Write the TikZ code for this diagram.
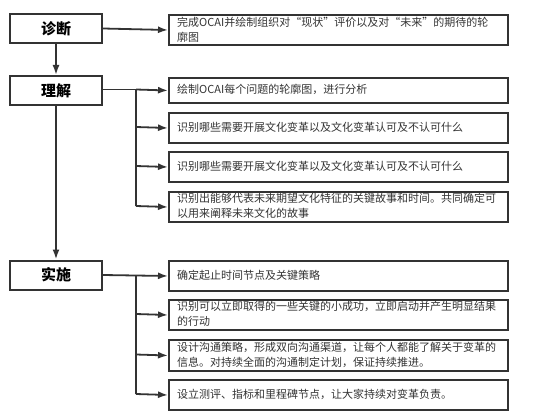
\documentclass[tikz,border=0pt]{standalone}
\usepackage{fontspec}
\setmainfont{Noto Sans CJK SC}
\usetikzlibrary{arrows.meta}
\definecolor{ink}{HTML}{333333}
\tikzset{
  stage/.style={draw=ink, line width=2pt, minimum width=92pt, minimum height=29pt, inner sep=0pt, font=\fontsize{15}{17}\selectfont\bfseries, text=black},
  task/.style={draw=ink, line width=2pt, minimum width=339pt, minimum height=30pt, inner sep=0pt, anchor=north west},
  tasktext/.style={anchor=west, align=left, font=\fontsize{11}{15}\selectfont, text=ink, inner sep=0pt},
  conn/.style={draw=ink, line width=1.8pt},
  arr/.style={conn, -{Latex[length=10pt,width=7pt]}}
}
\begin{document}
\begin{tikzpicture}[x=1pt,y=-1pt]
\useasboundingbox (0,0) rectangle (534,419);
% stages
\node[stage] (s1) at (56,28.5) {诊断};
\node[stage] (s2) at (56,90.5) {理解};
\node[stage] (s3) at (56,275) {实施};
% tasks
\node[task] (t1) at (168,14) {}; \node[tasktext] at (177,29.5) {完成OCAI并绘制组织对“现状”评价以及对“未来”的期待的轮\\廓图};
\node[task, minimum height=25pt] (t2) at (168,77) {}; \node[tasktext] at (177,89.5) {绘制OCAI每个问题的轮廓图，进行分析};
\node[task] (t3) at (168,112) {}; \node[tasktext] at (177,127) {识别哪些需要开展文化变革以及文化变革认可及不认可什么};
\node[task] (t4) at (168,151) {}; \node[tasktext] at (177,166) {识别哪些需要开展文化变革以及文化变革认可及不认可什么};
\node[task] (t5) at (168,191) {}; \node[tasktext] at (177,206) {识别出能够代表未来期望文化特征的关键故事和时间。共同确定可\\以用来阐释未来文化的故事};
\node[task] (u1) at (168,260) {}; \node[tasktext] at (177,275) {确定起止时间节点及关键策略};
\node[task] (u2) at (168,299) {}; \node[tasktext] at (177,314) {识别可以立即取得的一些关键的小成功，立即启动并产生明显结果\\的行动};
\node[task, minimum height=31pt] (u3) at (168,339) {}; \node[tasktext] at (177,354.5) {设计沟通策略，形成双向沟通渠道，让每个人都能了解关于变革的\\信息。对持续全面的沟通制定计划，保证持续推进。};
\node[task] (u4) at (168,379) {}; \node[tasktext] at (177,394) {设立测评、指标和里程碑节点，让大家持续对变革负责。};
% main flow
\draw[arr] (s1.south) -- (s2.north);
\draw[arr] (s2.south) -- (s3.north);
\draw[arr] (s1.east) -- (t1.west);
% understanding branch
\coordinate (b1) at (136,89.5);
\draw[conn] (s2.east |- b1) -- (b1);
\draw[arr] (b1) -- (t2.west);
\draw[conn] (b1) -- (136,206);
\draw[arr] (136,127) -- (t3.west);
\draw[arr] (136,166) -- (t4.west);
\draw[arr] (136,206) -- (t5.west);
% implementation branch
\coordinate (b2) at (136,275);
\draw[arr] (s3.east) -- (u1.west);
\draw[conn] (b2) -- (136,394);
\draw[arr] (136,314) -- (u2.west);
\draw[arr] (136,354.5) -- (u3.west);
\draw[arr] (136,394) -- (u4.west);
\end{tikzpicture}
\end{document}
